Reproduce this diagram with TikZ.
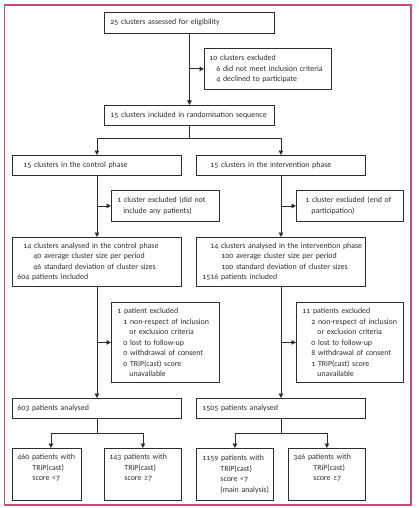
\documentclass[tikz,border=0pt]{standalone}
\usepackage{fontspec}
\setmainfont{Carlito}[Numbers=OldStyle]
\usetikzlibrary{arrows.meta,calc}
\definecolor{frame}{RGB}{190,80,125}
\definecolor{ink}{RGB}{45,45,45}
\tikzset{
  box/.style={draw=ink, line width=0.85pt, anchor=north west, align=left,
    inner ysep=1pt, text=ink, font=\fontsize{7.9}{10.5}\selectfont},
  link/.style={draw=ink, line width=0.85pt},
  arr/.style={link, -{Triangle[length=4.5pt,width=4.5pt]}}
}
\newcommand{\Ln}[2][0]{\mbox{\hspace*{#1pt}#2}}
% box: name, x1, y1, x2, y2, inset, text
\newcommand{\bx}[7]{%
  \pgfmathsetmacro{\bw}{#4-#2}\pgfmathsetmacro{\bh}{#5-#3}\pgfmathsetmacro{\tw}{#4-#2-2*#6}%
  \node[box, minimum width=\bw pt, minimum height=\bh pt, inner xsep=#6pt, text width=\tw pt] (#1) at (#2,#3) {#7};}
\begin{document}
\begin{tikzpicture}[x=1pt,y=-1pt]
\useasboundingbox (0,0) rectangle (419,508);
\draw[frame, line width=1.3pt] (4.5,5) rectangle (411,505);
\bx{b1}{104}{12}{274}{33}{6}{\Ln{25 clusters assessed for eligibility}}
\bx{ex1}{204}{48}{331}{89}{5}{\Ln{10 clusters excluded}\\ \Ln[7]{6 did not meet inclusion criteria}\\ \Ln[7]{4 declined to participate}}
\bx{b2}{104}{105}{274}{125}{6}{\Ln{15 clusters included in randomisation sequence}}
\bx{ctrl}{12}{155}{181}{175}{11}{\Ln{15 clusters in the control phase}}
\bx{intv}{196}{155}{365}{175}{14}{\Ln{15 clusters in the intervention phase}}
\bx{exc}{111}{190}{219}{221}{6}{\Ln{1 cluster excluded (did not}\\ \Ln[6]{include any patients)}}
\bx{exi}{296}{190}{403}{221}{9}{\Ln{1 cluster excluded (end of}\\ \Ln[6]{participation)}}
\bx{anc}{12}{237}{181}{286}{5}{\Ln[6]{14 clusters analysed in the control phase}\\ \Ln[16]{40 average cluster size per period}\\ \Ln[16]{46 standard deviation of cluster sizes}\\ \Ln{604 patients included}}
\bx{ani}{196}{237}{365}{286}{6}{\Ln[8]{14 clusters analysed in the intervention phase}\\ \Ln[19]{100 average cluster size per period}\\ \Ln[19]{100 standard deviation of cluster sizes}\\ \Ln{1516 patients included}}
\bx{pec}{111}{302}{219}{382}{6}{\Ln{1 patient excluded}\\ \Ln[6]{1 non-respect of inclusion}\\ \Ln[12]{or exclusion criteria}\\ \Ln[6]{0 lost to follow-up}\\ \Ln[6]{0 withdrawal of consent}\\ \Ln[6]{0 TRiP(cast) score}\\ \Ln[12]{unavailable}}
\bx{pei}{296}{302}{403}{382}{6}{\Ln{11 patients excluded}\\ \Ln[9]{2 non-respect of inclusion}\\ \Ln[15]{or exclusion criteria}\\ \Ln[9]{0 lost to follow-up}\\ \Ln[9]{8 withdrawal of consent}\\ \Ln[9]{1 TRiP(cast) score}\\ \Ln[15]{unavailable}}
\bx{c603}{12}{398}{181}{418}{5}{\Ln{603 patients analysed}}
\bx{i1505}{196}{398}{365}{418}{6}{\Ln{1505 patients analysed}}
\bx{l1}{12}{448}{81}{500}{5}{\Ln{460 patients with}\\ \Ln[15]{TRiP(cast)}\\ \Ln[15]{score <7}\\ \strut}
\bx{l2}{104}{448}{181}{500}{5}{\Ln{143 patients with}\\ \Ln[15]{TRiP(cast)}\\ \Ln[15]{score ≥7}\\ \strut}
\bx{r1}{196}{448}{273}{500}{6}{\Ln{1159 patients with}\\ \Ln[18]{TRiP(cast)}\\ \Ln[18]{score <7}\\ \Ln[18]{(main analysis)}}
\bx{r2}{288}{448}{365}{500}{5}{\Ln{346 patients with}\\ \Ln[20]{TRiP(cast)}\\ \Ln[20]{score ≥7}\\ \strut}
% connectors
\draw[arr] (b1.south) -- (b2.north);
\coordinate (j1) at (b1.south |- ex1.west);
\draw[arr] (j1) -- (ex1.west);
\coordinate (s1) at ($(b2.south)+(0,13)$);
\draw[link] (b2.south) -- (s1);
\draw[arr] (s1) -| (ctrl.north);
\draw[arr] (s1) -| (intv.north);
\draw[arr] (ctrl.south) -- (anc.north);
\coordinate (j2) at (ctrl.south |- exc.west);
\draw[arr] (j2) -- (exc.west);
\draw[arr] (intv.south) -- (ani.north);
\coordinate (j3) at (intv.south |- exi.west);
\draw[arr] (j3) -- (exi.west);
\draw[arr] (anc.south) -- (c603.north);
\coordinate (j4) at (anc.south |- pec.west);
\draw[arr] (j4) -- (pec.west);
\draw[arr] (ani.south) -- (i1505.north);
\coordinate (j5) at (ani.south |- pei.west);
\draw[arr] (j5) -- (pei.west);
\coordinate (s2) at ($(c603.south)+(0,15)$);
\draw[link] (c603.south) -- (s2);
\draw[arr] (s2) -| ([xshift=4pt]l1.north);
\draw[arr] (s2) -| (l2.north);
\coordinate (s3) at ($(i1505.south)+(0,15)$);
\draw[link] (i1505.south) -- (s3);
\draw[arr] (s3) -| (r1.north);
\draw[arr] (s3) -| (r2.north);
\end{tikzpicture}
\end{document}
